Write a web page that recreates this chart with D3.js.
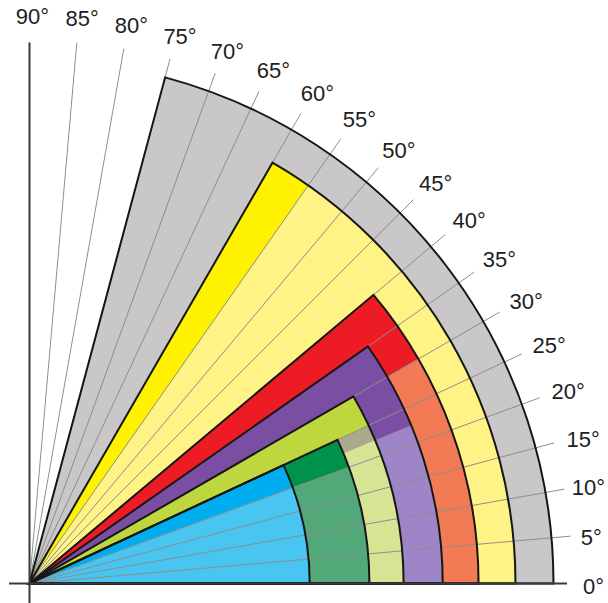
<!DOCTYPE html>
<html>
<head>
<meta charset="utf-8">
<script src="https://cdn.jsdelivr.net/npm/d3@7"></script>
<style>
  html, body { margin: 0; padding: 0; background: #fff; }
  svg { display: block; }
</style>
</head>
<body>
<script>
// ---- data ----
const categories  = ["grey", "yellow", "red", "purple", "lime", "green", "blue"];
const maxAngle    = [75, 60, 40, 35, 30, 25, 25];        // degrees, upper edge of each sector
const splitAngle  = [0, 55, 30, 22.5, 22.5, 20, 20];     // degrees, where the shade changes
const reach       = [96.5, 89.5, 82.7, 76.1, 68.9, 62.6, 51.6]; // radial extent (ray length = 100)
const upperColors = ["#c9c7c7", "#fff200", "#ed1c24", "#7a4fa3", "#bed73e", "#00924a", "#00aeef"];
const lowerColors = ["#c9c7c7", "#fff386", "#f27a55", "#9d85c8", "#d7e494", "#52a878", "#48c6f1"];
const bandColors  = [null, null, null, null, "#a9ab8c", null, null]; // extra band just below split
const bandLow     = [0, 0, 0, 0, 22.5, 0, 0];
const tickAngles  = [0, 5, 10, 15, 20, 25, 30, 35, 40, 45, 50, 55, 60, 65, 70, 75, 80, 85, 90];
const tickLabels  = ["0°","5°","10°","15°","20°","25°","30°","35°","40°","45°","50°","55°","60°","65°","70°","75°","80°","85°","90°"];

// ---- layout ----
const W = 608, H = 603;
const ox = 29.5, oy = 583.5;

const svg = d3.select("body").append("svg")
  .attr("width", W).attr("height", H);

const g = svg.append("g").attr("transform", `translate(${ox},${oy})`);

const ang = d3.scaleLinear().domain([0, 90]).range([Math.PI / 2, 0]); // d3.arc angle (clockwise from 12 o'clock)
const rad = d3.scaleLinear().domain([0, 100]).range([0, 543]);

const arc = d3.arc().innerRadius(0);

// fills
const fills = g.append("g");
categories.forEach((c, i) => {
  const R = rad(reach[i]);
  if (splitAngle[i] > 0) {
    fills.append("path")
      .attr("d", arc({ outerRadius: R, startAngle: ang(splitAngle[i]), endAngle: ang(0) }))
      .attr("fill", lowerColors[i]);
  }
  fills.append("path")
    .attr("d", arc({ outerRadius: R, startAngle: ang(maxAngle[i]), endAngle: ang(splitAngle[i]) }))
    .attr("fill", upperColors[i]);
});
// extra band (outer ring only)
const bandIdx = bandColors.findIndex(d => d);
categories.forEach((c, i) => {
  if (!bandColors[i]) return;
  const R = rad(reach[i]);
  const inner = rad(reach[i + 1]);
  const ring = d3.arc().innerRadius(inner).outerRadius(R);
  fills.append("path")
    .attr("d", ring({ startAngle: ang(splitAngle[i] + 2.5), endAngle: ang(bandLow[i]) }))
    .attr("fill", bandColors[i]);
  fills.append("path")
    .attr("d", ring({ startAngle: ang(bandLow[i]), endAngle: ang(0) }))
    .attr("fill", lowerColors[i]);
});
// redraw inner sectors that sit over the banded ring
categories.forEach((c, i) => {
  if (i <= bandIdx) return;
  const R = rad(reach[i]);
  if (splitAngle[i] > 0) {
    fills.append("path")
      .attr("d", arc({ outerRadius: R, startAngle: ang(splitAngle[i]), endAngle: ang(0) }))
      .attr("fill", lowerColors[i]);
  }
  fills.append("path")
    .attr("d", arc({ outerRadius: R, startAngle: ang(maxAngle[i]), endAngle: ang(splitAngle[i]) }))
    .attr("fill", upperColors[i]);
});

// rays
const rays = g.append("g");
tickAngles.filter(a => a < 90 && a > 0).forEach(a => {
  const t = a * Math.PI / 180;
  rays.append("line")
    .attr("x1", 0).attr("y1", 0)
    .attr("x2", rad(100) * Math.cos(t))
    .attr("y2", -rad(100) * Math.sin(t))
    .attr("stroke", "#8e8e8e")
    .attr("stroke-width", 1);
});

// outlines
const outlines = g.append("g");
categories.forEach((c, i) => {
  outlines.append("path")
    .attr("d", arc({ outerRadius: rad(reach[i]), startAngle: ang(maxAngle[i]), endAngle: ang(0) }))
    .attr("fill", "none")
    .attr("stroke", "#161616")
    .attr("stroke-width", 2)
    .attr("stroke-linejoin", "miter");
});

// axes
g.append("line")
  .attr("x1", 0).attr("y1", -rad(100) + 2)
  .attr("x2", 0).attr("y2", H - oy)
  .attr("stroke", "#3a3a3a").attr("stroke-width", 2);
g.append("line")
  .attr("x1", 9 - ox).attr("y1", 0)
  .attr("x2", rad(99)).attr("y2", 0)
  .attr("stroke", "#3a3a3a").attr("stroke-width", 2);

// labels
const labels = g.append("g")
  .attr("font-family", "'Liberation Sans', Arial, Helvetica, sans-serif")
  .attr("font-size", 22)
  .attr("fill", "#1e1e1e")
  .attr("text-anchor", "middle");
tickAngles.forEach((a, i) => {
  const t = a * Math.PI / 180;
  const r = a < 10 ? 561 : 570;
  const txt = labels.append("text")
    .attr("y", -r * Math.sin(t) + 3)
    .attr("dy", "0.35em")
    .text(tickLabels[i]);
  const w = txt.node().getComputedTextLength();
  let x = r * Math.cos(t) + 3;
  const maxX = (W - 3) - ox - w / 2;
  if (x > maxX) x = maxX;
  txt.attr("x", x);
});
</script>
</body>
</html>
